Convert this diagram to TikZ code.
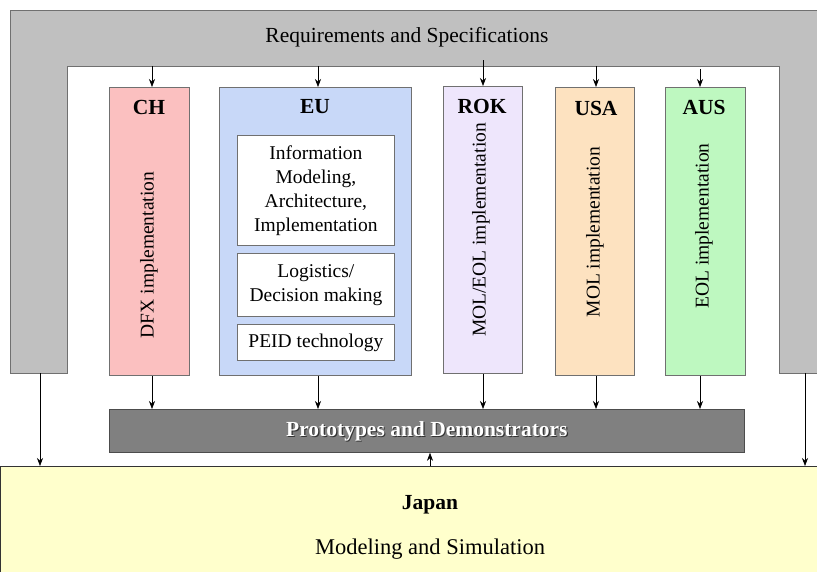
\documentclass[tikz,border=0pt]{standalone}
\usepackage{fontspec}
\setmainfont{Liberation Serif}
\usetikzlibrary{arrows.meta}
\definecolor{framegray}{HTML}{C0C0C0}
\definecolor{edgegray}{HTML}{707070}
\definecolor{protogray}{HTML}{808080}
\definecolor{chfill}{HTML}{FBC0C0}
\definecolor{eufill}{HTML}{C8D8F8}
\definecolor{rokfill}{HTML}{EEE6FC}
\definecolor{usafill}{HTML}{FDE2C0}
\definecolor{ausfill}{HTML}{BEF8C0}
\definecolor{japanfill}{HTML}{FFFFCC}
\tikzset{
  big/.style={font=\fontsize{21.5}{24}\selectfont},
  mid/.style={font=\fontsize{19.5}{24}\selectfont},
  partner/.style={draw=edgegray, line width=0.8pt, anchor=north west, inner sep=0pt},
  subbox/.style={draw=edgegray, line width=0.8pt, fill=white, anchor=north west, inner sep=0pt},
  head/.style={font=\fontsize{21.5}{24}\selectfont\bfseries},
  vert/.style={rotate=90, font=\fontsize{19.5}{22}\selectfont},
  flow/.style={-{Stealth[length=8pt,width=6pt]}, line width=0.6pt, black},
}
\begin{document}
\begin{tikzpicture}[x=1pt, y=-1pt]
\useasboundingbox (0,0) rectangle (817,571);
\clip (0,0) rectangle (817,571);

% requirements frame (inverted U)
\fill[framegray, draw=edgegray, line width=0.8pt]
  (10,373) -- (10,10) -- (840,10) -- (840,373) -- (779,373) -- (779,66)
  -- (67,66) -- (67,373) -- cycle;
\node[big] (req) at (407,37) {Requirements and Specifications};
\coordinate (fCH)  at (152,66);
\coordinate (fEU)  at (318,66);
\coordinate (fROK) at (483,60);
\coordinate (fUSA) at (596,66);
\coordinate (fAUS) at (700,69);
\coordinate (legL) at (40,373);
\coordinate (legR) at (805,373);

% partner columns
\node[partner, fill=chfill,  minimum width=80pt,  minimum height=288pt] (CH)  at (109,87) {};
\node[partner, fill=eufill,  minimum width=192pt, minimum height=288pt] (EU)  at (219,87) {};
\node[partner, fill=rokfill, minimum width=79pt,  minimum height=287pt] (ROK) at (443,86) {};
\node[partner, fill=usafill, minimum width=79pt,  minimum height=288pt] (USA) at (555,87) {};
\node[partner, fill=ausfill, minimum width=80pt,  minimum height=288pt] (AUS) at (665,87) {};

\node[head] (chT)  at (149,107) {CH};
\node[head] (euT)  at (315,107) {EU};
\node[head] (rokT) at (482,106) {ROK};
\node[head] (usaT) at (596,108) {USA};
\node[head] (ausT) at (704,107) {AUS};

\node[vert] (chV)  at (149,255) {DFX implementation};
\node[vert] (rokV) at (481,230) {MOL/EOL implementation};
\node[vert] (usaV) at (595,232) {MOL implementation};
\node[vert] (ausV) at (704,226) {EOL implementation};

% EU work packages
\node[subbox, minimum width=157pt, minimum height=110pt] (info) at (237,135) {};
\node[mid, align=center] at (info.center) {Information\\Modeling,\\Architecture,\\Implementation};
\node[subbox, minimum width=157pt, minimum height=63pt] (logi) at (237,253) {};
\node[mid, align=center] at (logi.center) {Logistics/\\Decision making};
\node[subbox, minimum width=157pt, minimum height=36pt] (peid) at (237,324) {};
\node[mid] at (peid.center) {PEID technology};

% prototypes bar
\node[draw=black!70, line width=0.8pt, fill=protogray, anchor=north west, inner sep=0pt,
      minimum width=635pt, minimum height=43pt] (proto) at (109,409) {};
\node[head, text=black!80] at ([xshift=1.2pt,yshift=-1.2pt]proto.center) {Prototypes and Demonstrators};
\node[head, text=white] at (proto.center) {Prototypes and Demonstrators};

% Japan
\node[draw=black!80, line width=0.8pt, fill=japanfill, anchor=north west, inner sep=0pt,
      minimum width=830pt, minimum height=120pt] (japan) at (0,466) {};
\node[head] (jpT) at (430,505) {Japan};
\node[font=\fontsize{22.5}{24}\selectfont] (jpS) at (430,549) {Modeling and Simulation};

% connectors
\draw[flow] (fCH)  -- (CH.north -| fCH);
\draw[flow] (fEU)  -- (EU.north -| fEU);
\draw[flow] (fROK) -- (ROK.north -| fROK);
\draw[flow] (fUSA) -- (USA.north -| fUSA);
\draw[flow] (fAUS) -- (AUS.north -| fAUS);

\draw[flow] (CH.south -| fCH)   -- (proto.north -| fCH);
\draw[flow] (EU.south -| fEU)   -- (proto.north -| fEU);
\draw[flow] (ROK.south -| fROK) -- (proto.north -| fROK);
\draw[flow] (USA.south -| fUSA) -- (proto.north -| fUSA);
\draw[flow] (AUS.south -| fAUS) -- (proto.north -| fAUS);

\draw[flow] (japan.north -| jpT) -- (proto.south -| jpT);
\draw[flow] (legL) -- (japan.north -| legL);
\draw[flow] (legR) -- (japan.north -| legR);
\end{tikzpicture}
\end{document}
